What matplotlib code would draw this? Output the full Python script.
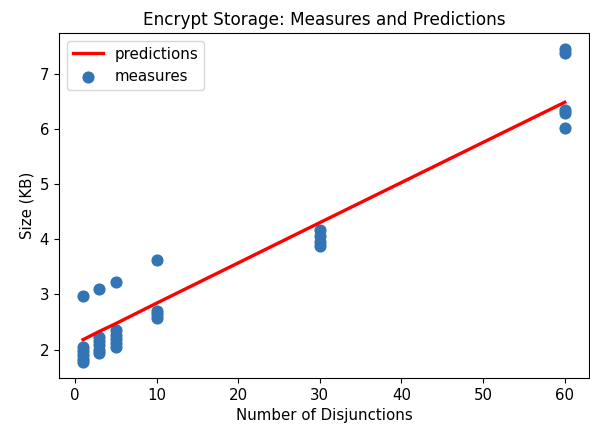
import matplotlib.pyplot as plt

# measured sizes (KB) per number of disjunctions
disjunctions = [1, 1, 1, 1, 1, 1,
                3, 3, 3, 3, 3, 3,
                5, 5, 5, 5, 5, 5,
                10, 10, 10, 10,
                30, 30, 30, 30,
                60, 60, 60, 60, 60]
sizes = [2.97, 2.05, 1.97, 1.90, 1.83, 1.77,
         3.09, 2.22, 2.15, 2.08, 2.00, 1.93,
         3.23, 2.35, 2.27, 2.20, 2.12, 2.05,
         3.62, 2.70, 2.64, 2.58,
         4.17, 4.05, 3.95, 3.87,
         7.45, 7.38, 6.34, 6.29, 6.02]

# regression predictions
pred_x = [1, 3, 5, 10, 30, 60]
pred_y = [2.18, 2.33, 2.47, 2.84, 4.30, 6.48]

fig = plt.figure(figsize=(5.9, 4.29), dpi=100)
ax = fig.add_axes([0.1, 0.119, 0.898, 0.804])

ax.plot(pred_x, pred_y, color='red', linewidth=2.4, label='predictions')
ax.scatter(disjunctions, sizes, s=60, color='#3274b4', label='measures')

ax.set_title("Encrypt Storage: Measures and Predictions", fontsize=12.2)
ax.set_xlabel("Number of Disjunctions", fontsize=10.8)
ax.set_ylabel("Size (KB)", fontsize=10.8)
ax.tick_params(labelsize=10.8)
ax.legend(loc='upper left', fontsize=10.8)

plt.savefig('out.png')
